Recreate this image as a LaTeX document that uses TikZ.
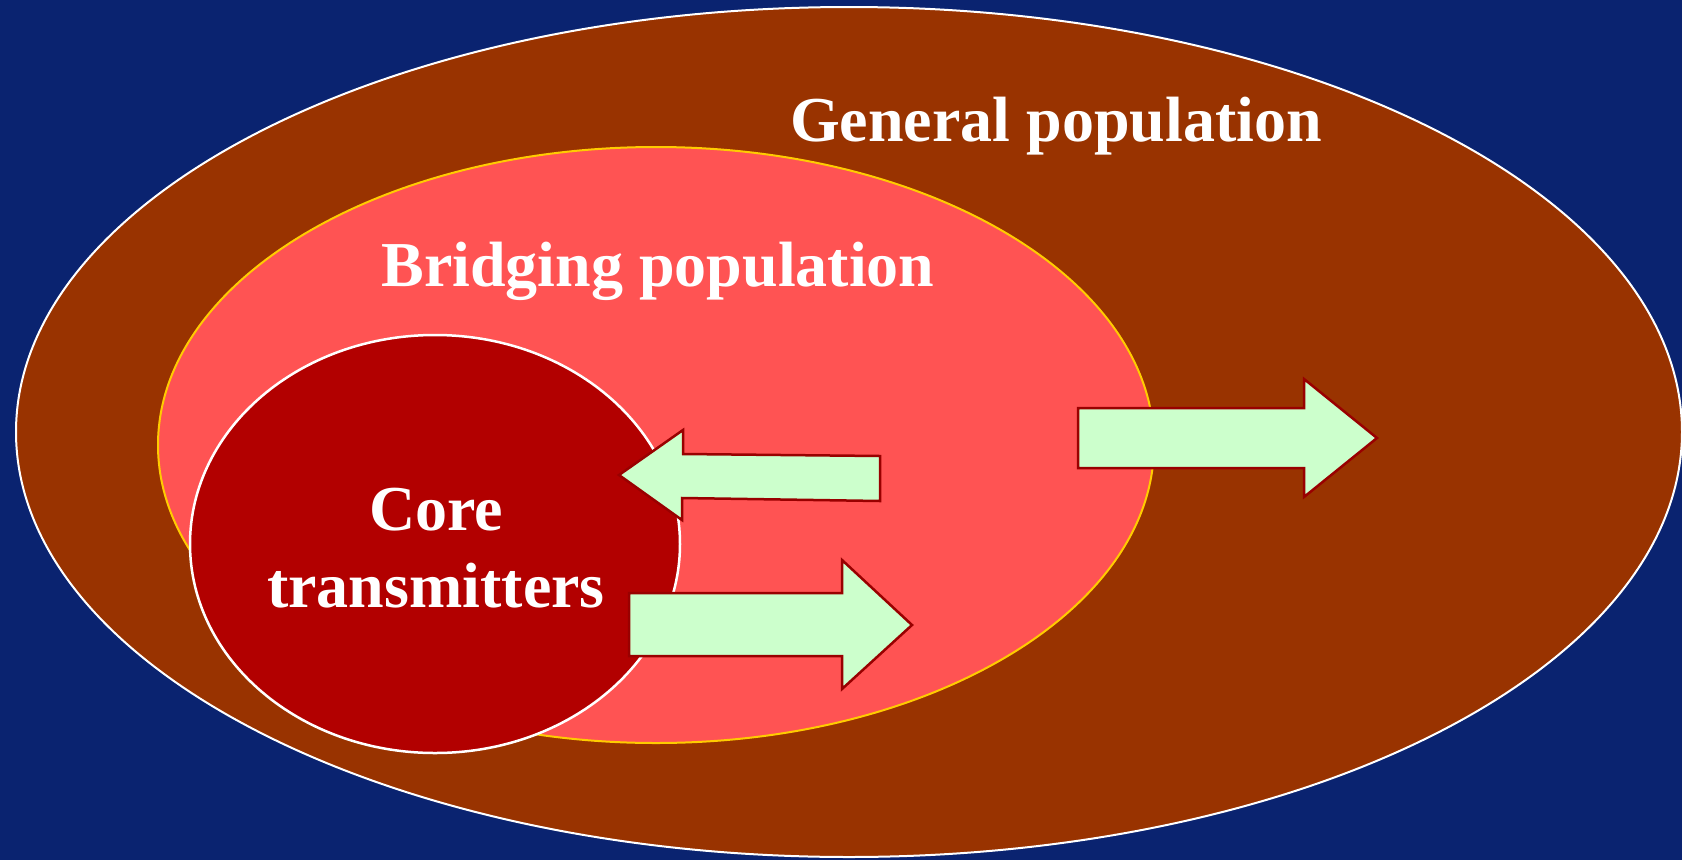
\documentclass[tikz,border=0pt]{standalone}
\usepackage{fontspec}
\setmainfont{Liberation Serif}
\usetikzlibrary{shapes.geometric}
\definecolor{bgblue}{HTML}{0A2370}
\definecolor{genfill}{HTML}{993300}
\definecolor{bridgefill}{HTML}{FF5353}
\definecolor{bridgeline}{HTML}{FFCC00}
\definecolor{corefill}{HTML}{B20000}
\definecolor{arrowfill}{HTML}{CCFFCC}
\definecolor{arrowline}{HTML}{990000}
\tikzset{
  popellipse/.style={ellipse, inner sep=0pt, outer sep=0pt},
  fatarrow/.style={fill=arrowfill, draw=arrowline, line width=2.5pt, line join=miter},
  label text/.style={text=white, font=\bfseries\fontsize{64}{75}\selectfont, inner sep=0pt, anchor=base}
}
\begin{document}
\begin{tikzpicture}[x=1pt, y=-1pt]
  \fill[bgblue] (0,0) rectangle (1682,860);
  \useasboundingbox (0,0) rectangle (1682,860);
  \node[popellipse, fill=genfill, draw=white, line width=2pt,
        minimum width=1666pt, minimum height=850pt] (general) at (849,432) {};
  \node[popellipse, fill=bridgefill, draw=bridgeline, line width=2pt,
        minimum width=996pt, minimum height=596pt] (bridging) at (656,445) {};
  \node[popellipse, fill=corefill, draw=white, line width=2.5pt,
        minimum width=490pt, minimum height=418pt] (core) at (435,544) {};
  % arrows
  \draw[fatarrow] (619,475) -- (683,430) -- (683,454) -- (880,456) -- (880,501)
        -- (682,498) -- (682,520) -- cycle;
  \draw[fatarrow] (629,593) -- (842,593) -- (842,560) -- (912,625) -- (842,689)
        -- (842,656) -- (629,656) -- cycle;
  \draw[fatarrow] (1078,408) -- (1304,408) -- (1304,379) -- (1377,438) -- (1304,497)
        -- (1304,468) -- (1078,468) -- cycle;
  % labels
  \node[label text] (genlabel) at (1056,141) {General population};
  \node[label text] (bridgelabel) at (658,286) {Bridging population};
  \node[label text] (corelabel1) at (436,530) {Core};
  \node[label text] (corelabel2) at (436,607) {transmitters};
\end{tikzpicture}
\end{document}
